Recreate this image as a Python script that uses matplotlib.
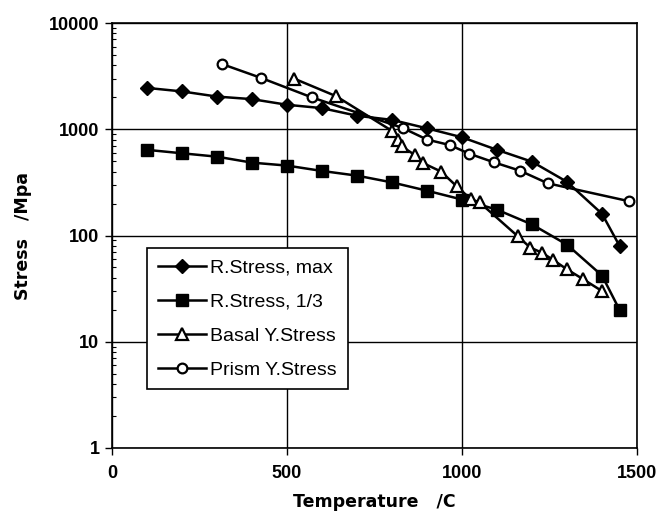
import matplotlib
matplotlib.use("Agg")
from matplotlib import pyplot as plt
from matplotlib.ticker import LogLocator, NullFormatter, FixedLocator

# R.Stress, max
rmax_t = [100, 200, 300, 400, 500, 600, 700, 800, 900, 1000, 1100, 1200, 1300, 1400, 1450]
rmax_s = [2450, 2270, 2030, 1920, 1700, 1580, 1340, 1225, 1020, 840, 640, 495, 320, 160, 80]

# R.Stress, 1/3
r13_t = [100, 200, 300, 400, 500, 600, 700, 800, 900, 1000, 1100, 1200, 1300, 1400, 1450]
r13_s = [640, 594, 552, 485, 455, 405, 366, 316, 264, 218, 175, 127, 82, 42, 20]

# Basal Y.Stress
basal_t = [520, 640, 800, 818, 828, 866, 889, 940, 985, 1025, 1050,
           1160, 1195, 1228, 1260, 1300, 1345, 1400]
basal_s = [3000, 2050, 965, 795, 690, 570, 480, 400, 290, 220, 205,
           98, 77, 69, 59, 48, 39, 30]

# Prism Y.Stress
prism_t = [315, 425, 570, 830, 900, 965, 1020, 1090, 1165, 1245, 1478]
prism_s = [4100, 3050, 2000, 1030, 800, 710, 590, 490, 408, 310, 210]

x_ticks = [0, 500, 1000, 1500]
y_ticks = [1, 10, 100, 1000, 10000]


def main():
    plt.rcParams['font.family'] = ['Liberation Sans', 'DejaVu Sans']
    fig = plt.figure(figsize=(6.7, 5.24), dpi=100)
    ax = fig.add_axes([112 / 670, 1 - 448 / 524, 525 / 670, 425 / 524])

    lw = 1.8
    ax.plot(rmax_t, rmax_s, color='black', lw=lw, marker='D', ms=7,
            mfc='black', mec='black', label='R.Stress, max', zorder=3)
    ax.plot(r13_t, r13_s, color='black', lw=lw, marker='s', ms=8,
            mfc='black', mec='black', label='R.Stress, 1/3', zorder=3)
    ax.plot(basal_t, basal_s, color='black', lw=lw, marker='^', ms=8,
            mfc='white', mec='black', mew=1.6, label='Basal Y.Stress', zorder=3)
    ax.plot(prism_t, prism_s, color='black', lw=lw, marker='o', ms=7,
            mfc='white', mec='black', mew=1.6, label='Prism Y.Stress', zorder=3)

    ax.set_yscale('log')
    ax.set_xlim(0, 1500)
    ax.set_ylim(1, 10000)
    ax.xaxis.set_major_locator(FixedLocator(x_ticks))
    ax.yaxis.set_major_locator(FixedLocator(y_ticks))
    ax.set_yticklabels([str(v) for v in y_ticks])
    ax.yaxis.set_minor_locator(LogLocator(base=10, subs=range(2, 10)))
    ax.yaxis.set_minor_formatter(NullFormatter())

    ax.grid(True, which='major', color='black', lw=1.0)
    ax.tick_params(axis='both', which='major', direction='out', length=5,
                   width=1, labelsize=13)
    ax.tick_params(axis='x', which='major', pad=7)
    ax.tick_params(axis='y', which='major', pad=4)
    ax.tick_params(axis='y', which='minor', direction='in', length=3, width=0.8)
    for lab in ax.get_xticklabels() + ax.get_yticklabels():
        lab.set_fontweight('bold')
    for sp in ax.spines.values():
        sp.set_linewidth(1.2)

    ax.set_xlabel('Temperature   /C', fontsize=12.5, fontweight='bold',
                  family='DejaVu Sans', labelpad=8)
    ax.set_ylabel('Stress   /Mpa', fontsize=12.5, fontweight='bold',
                  family='DejaVu Sans', labelpad=12)

    leg = ax.legend(loc='upper left', bbox_to_anchor=(35 / 525, 1 - 225 / 425),
                    fontsize=14, frameon=True, fancybox=False, handlelength=2.5,
                    borderpad=0.55, labelspacing=0.85, handletextpad=0.2,
                    borderaxespad=0)
    leg.get_frame().set_edgecolor('black')
    leg.get_frame().set_linewidth(1.2)
    leg.get_frame().set_alpha(1)

    fig.savefig('out.png', dpi=100)
    return 0


if __name__ == "__main__":
    main()
